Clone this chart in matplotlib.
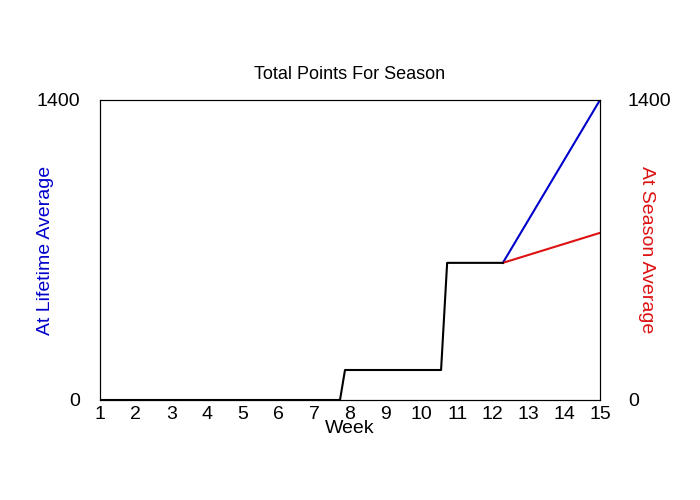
import matplotlib
matplotlib.use("Agg")
import matplotlib.pyplot as plt

plt.rcParams['font.family'] = ['Liberation Sans', 'DejaVu Sans']

actual_x = [1, 7.72, 7.86, 10.55, 10.72, 12.28]
actual_y = [0, 0, 140, 140, 640, 640]
lifetime_x = [12.28, 15]
lifetime_y = [640, 1400]
season_x = [12.28, 15]
season_y = [640, 780]
weeks = list(range(1, 16))

fig = plt.figure(figsize=(7, 5), dpi=100)
ax = fig.add_axes([100/700, 100/500, 500/700, 300/500])
ax.plot(lifetime_x, lifetime_y, color='#0000cc', lw=1.5)
ax.plot(season_x, season_y, color='#dd1111', lw=1.5)
ax.plot(actual_x, actual_y, color='black', lw=1.5)
ax.set_xlim(1, 15)
ax.set_ylim(0, 1400)
ax.set_xticks(weeks)
ax.set_xticklabels([str(w) for w in weeks], fontsize=14)
ax.set_yticks([0, 1400])
ax.set_yticklabels(['0', '1400'], fontsize=14)
ax.tick_params(axis='y', length=0, pad=14)
ax.tick_params(axis='x', length=0, pad=4)
ax.set_xlabel('Week', fontsize=14, labelpad=-2)
ax.set_ylabel('At Lifetime Average', fontsize=14, color='#0000cc', labelpad=-12)
ax.set_title('Total Points For Season', fontsize=13, pad=15)
ax2 = ax.twinx()
ax2.set_ylim(0, 1400)
ax2.set_yticks([0, 1400])
ax2.set_yticklabels(['0', '1400'], fontsize=14)
ax2.tick_params(length=0, pad=20)
ax2.set_ylabel('At Season Average', fontsize=14, color='#dd1111', rotation=270, labelpad=-12)
fig.savefig('out.png', dpi=100)
